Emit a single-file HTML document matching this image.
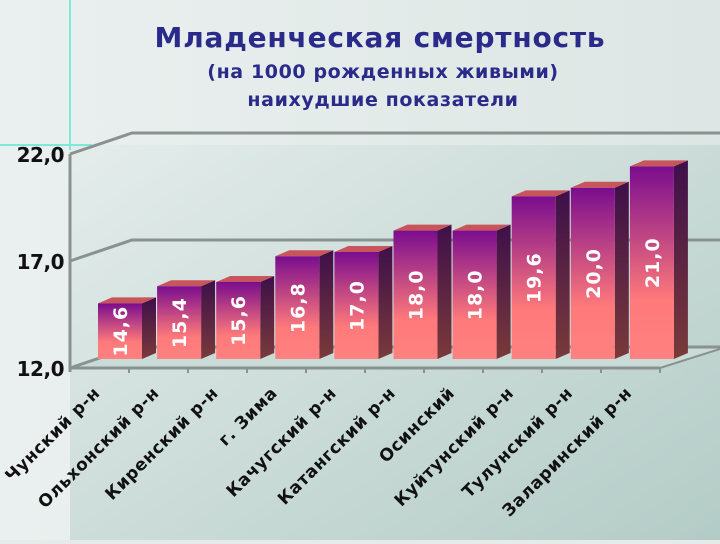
<!DOCTYPE html>
<html><head><meta charset="utf-8"><style>
body{margin:0;width:720px;height:540px;overflow:hidden;background:#e4ebe9;font-family:"DejaVu Sans","Liberation Sans",sans-serif}
</style></head><body>
<svg width="720" height="540" xmlns="http://www.w3.org/2000/svg">
<defs>
<linearGradient id="bg" x1="0" y1="0" x2="1" y2="0"><stop offset="0" stop-color="#eaf0ef"/><stop offset="1" stop-color="#dde6e4"/></linearGradient>
<linearGradient id="wall" x1="0" y1="0" x2="1" y2="1"><stop offset="0" stop-color="#e3ecea"/><stop offset="1" stop-color="#a9c5bf"/></linearGradient>
<linearGradient id="front" x1="0" y1="0" x2="0" y2="1"><stop offset="0" stop-color="#7a0d8e"/><stop offset="0.7" stop-color="#ff7a7a"/><stop offset="1" stop-color="#ff8080"/></linearGradient>
<linearGradient id="side" x1="0" y1="0" x2="0" y2="1"><stop offset="0" stop-color="#3e0f4a"/><stop offset="1" stop-color="#7a3a3a"/></linearGradient>
</defs>
<rect width="720" height="540" fill="url(#bg)"/>
<rect x="70" y="145" width="650" height="395" fill="url(#wall)" opacity="0.8"/>
<line x1="70" y1="0" x2="70" y2="150" stroke="#7fe8d8" stroke-width="2"/>
<line x1="0" y1="145" x2="92" y2="145" stroke="#7fe8d8" stroke-width="2"/>
<text x="380" y="47" text-anchor="middle" font-size="28" font-weight="bold" letter-spacing="0.8" fill="#2a2a8a">Младенческая смертность</text>
<text x="383" y="78" text-anchor="middle" font-size="19" font-weight="bold" letter-spacing="0.6" fill="#2a2a8a">(на 1000 рожденных живыми)</text>
<text x="383" y="106" text-anchor="middle" font-size="19" font-weight="bold" letter-spacing="0.6" fill="#2a2a8a">наихудшие показатели</text>
<g id="axes"></g>
<g id="bars"></g>
<g id="labels"></g>
</svg>
<script>
const categories=["Чунский р-н","Ольхонский р-н","Киренский р-н","г. Зима","Качугский р-н","Катангский р-н","Осинский","Куйтунский р-н","Тулунский р-н","Заларинский р-н"];
const values=[14.6,15.4,15.6,16.8,17.0,18.0,18.0,19.6,20.0,21.0];
const valueLabels=["14,6","15,4","15,6","16,8","17,0","18,0","18,0","19,6","20,0","21,0"];
const ticks=[12,17,22];
const tickLabels=["12,0","17,0","22,0"];
const NS="http://www.w3.org/2000/svg";
const yMin=12,yMax=22,pxPer=21.4;
const DX=62,DY=-21;
function yFront(v){return 368-(v-yMin)*pxPer;}
function yBar(v){return 359-(v-yMin)*pxPer;}
function xBar(i){return 98+i*59.1;}
function mk(t,a,p){const e=document.createElementNS(NS,t);for(const k in a)e.setAttribute(k,a[k]);p.appendChild(e);return e;}
const ax=document.getElementById('axes'),bg=document.getElementById('bars'),lg=document.getElementById('labels');
mk('polygon',{points:`70,368 ${70+DX},${368+DY} 720,${368+DY} 720,${368+DY+2} 660,368`,fill:'#c9dbd6',stroke:'#8a9290','stroke-width':2},ax);
ticks.forEach((t,i)=>{
 const y=yFront(t);
 const gl=mk('polyline',{points:`70,${y} ${70+DX},${y+DY} 720,${y+DY}`,fill:'none',stroke:'#8a9290','stroke-width':3},ax);
 
 
 const tl=mk('text',{x:64,y:y+8,'text-anchor':'end','font-size':20,'font-weight':'bold',fill:'#111','letter-spacing':'-0.5'},ax);
 tl.textContent=tickLabels[i];
 
 
});
mk('line',{x1:70,y1:yFront(yMax),x2:70,y2:372,stroke:'#8a9290','stroke-width':3},ax);
mk('line',{x1:70,y1:368,x2:660,y2:368,stroke:'#8a9290','stroke-width':3},ax);
for(let i=1;i<=categories.length;i++){const x=70+i*59;mk('line',{x1:x,y1:368,x2:x,y2:373,stroke:'#8a9290','stroke-width':2},ax);}
values.forEach((v,i)=>{
 const x=xBar(i),w=44,d=14,dy=6,top=yBar(v),bot=359;
 const g=mk('g',{},bg);
 
 
 mk('polygon',{points:`${x+w},${top} ${x+w+d},${top-dy} ${x+w+d},${bot-dy} ${x+w},${bot}`,fill:'url(#side)'},g);
 mk('polygon',{points:`${x},${top} ${x+d},${top-dy} ${x+w+d},${top-dy} ${x+w},${top}`,fill:'#c8545c'},g);
 mk('rect',{x:x,y:top,width:w,height:bot-top,fill:'url(#front)'},g);
 const cx=x+w/2+7,cy=(top+bot)/2;
 const t=mk('text',{x:cx,y:cy,'text-anchor':'middle','font-size':19,'font-weight':'bold',fill:'#fff','letter-spacing':'1',transform:`rotate(-90 ${cx} ${cy})`},g);
 t.textContent=valueLabels[i];
 
 
 const lx=x+3,ly=394;
 const c=mk('text',{x:lx,y:ly,'text-anchor':'end','font-size':17,'font-weight':'bold',fill:'#111','letter-spacing':'0.6',transform:`rotate(-45 ${lx} ${ly})`},lg);
 c.textContent=categories[i];
 
 
});
</script>
</body></html>
